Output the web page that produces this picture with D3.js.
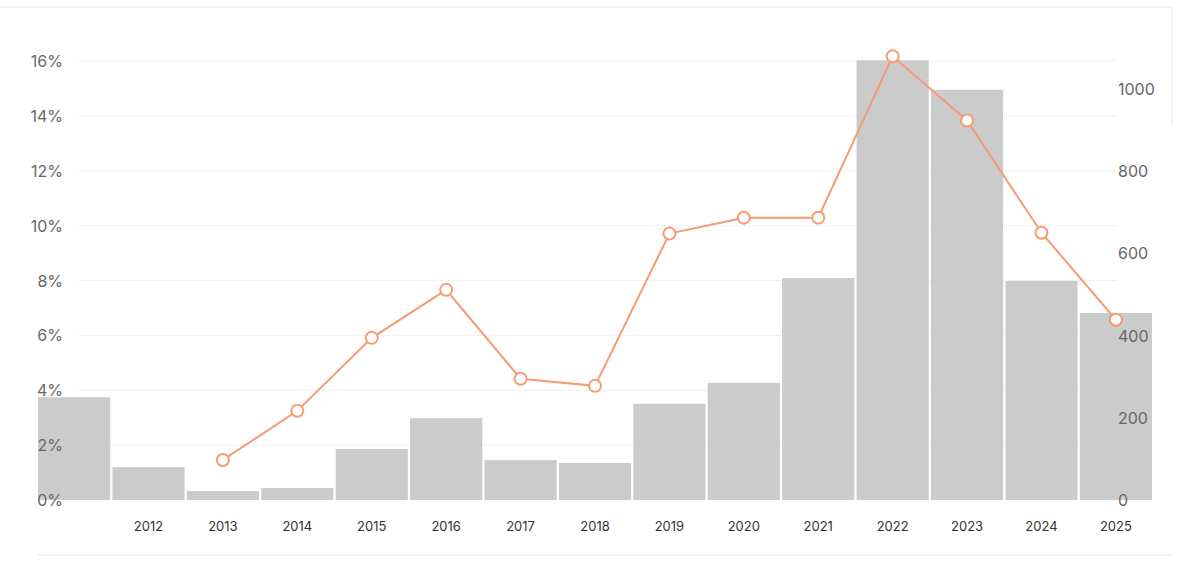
<!DOCTYPE html>
<html><head><meta charset="utf-8">
<script src="https://cdn.jsdelivr.net/npm/d3@7.9.0/dist/d3.min.js"></script>
<style>body{margin:0;background:#fff;font-family:Inter,"Noto Sans",sans-serif}</style>
</head><body><svg id="chart" width="1200" height="573"></svg>
<script>
const years = [2011,2012,2013,2014,2015,2016,2017,2018,2019,2020,2021,2022,2023,2024,2025];
const counts = [250,80,22,29,124,199,97,90,234,285,540,1070,998,533,455];
const shareYears = [2013,2014,2015,2016,2017,2018,2019,2020,2021,2022,2023,2024,2025];
const shares = [1.46,3.25,5.91,7.66,4.42,4.16,9.71,10.29,10.29,16.17,13.83,9.74,6.57];
const pctTicks = [0,2,4,6,8,10,12,14,16];
const countTicks = [0,200,400,600,800,1000];

const svg = d3.select('#chart');
const x = d3.scaleBand().domain(years).range([38, 1152]).paddingInner(0.03);
const yPct = d3.scaleLinear().domain([0, 16]).range([500, 61]);
const yCnt = d3.scaleLinear().domain([0, 1000]).range([500, 89]);

// frame lines
svg.append('line').attr('x1',0).attr('x2',1172).attr('y1',7).attr('y2',7).attr('stroke','#e6e6e6');
svg.append('line').attr('x1',38).attr('x2',1172).attr('y1',555).attr('y2',555).attr('stroke','#e6e6e6');
svg.append('line').attr('x1',1172).attr('x2',1172).attr('y1',7).attr('y2',125).attr('stroke','#e6e6e6');

// grid
svg.selectAll('.grid').data(pctTicks.slice(1)).join('line')
  .attr('x1',78).attr('x2',1118).attr('y1',d=>yPct(d)).attr('y2',d=>yPct(d))
  .attr('stroke','#e3e3e3').attr('stroke-dasharray','1,1');

// bars
svg.selectAll('.bar').data(years).join('rect')
  .attr('x',d=>x(d)).attr('width',x.bandwidth())
  .attr('y',(d,i)=>yCnt(counts[i])).attr('height',(d,i)=>500-yCnt(counts[i]))
  .attr('fill','#cbcbcb');

// axes labels
svg.selectAll('.lt').data(pctTicks).join('text')
  .attr('x',63).attr('y',d=>yPct(d)+6).attr('text-anchor','end')
  .attr('font-size',16).attr('fill','#666').text(d=>d+'%');
svg.selectAll('.rt').data(countTicks).join('text')
  .attr('x',1118).attr('y',d=>yCnt(d)+6)
  .attr('font-size',16).attr('fill','#666').text(d=>d);
svg.selectAll('.xt').data(years.slice(1)).join('text')
  .attr('x',d=>x(d)+x.bandwidth()/2).attr('y',531).attr('text-anchor','middle')
  .attr('font-size',13).attr('fill','#333').text(d=>d);

// line
const cx = d=>x(d)+x.bandwidth()/2;
const line = d3.line().x((d,i)=>cx(shareYears[i])).y(d=>yPct(d));
svg.append('path').datum(shares).attr('d',line).attr('fill','none')
  .attr('stroke','#f79b72').attr('stroke-width',2);
svg.selectAll('.pt').data(shares).join('circle')
  .attr('cx',(d,i)=>cx(shareYears[i])).attr('cy',d=>yPct(d)).attr('r',6)
  .attr('fill','#fff').attr('stroke','#f79b72').attr('stroke-width',2);
</script></body></html>
